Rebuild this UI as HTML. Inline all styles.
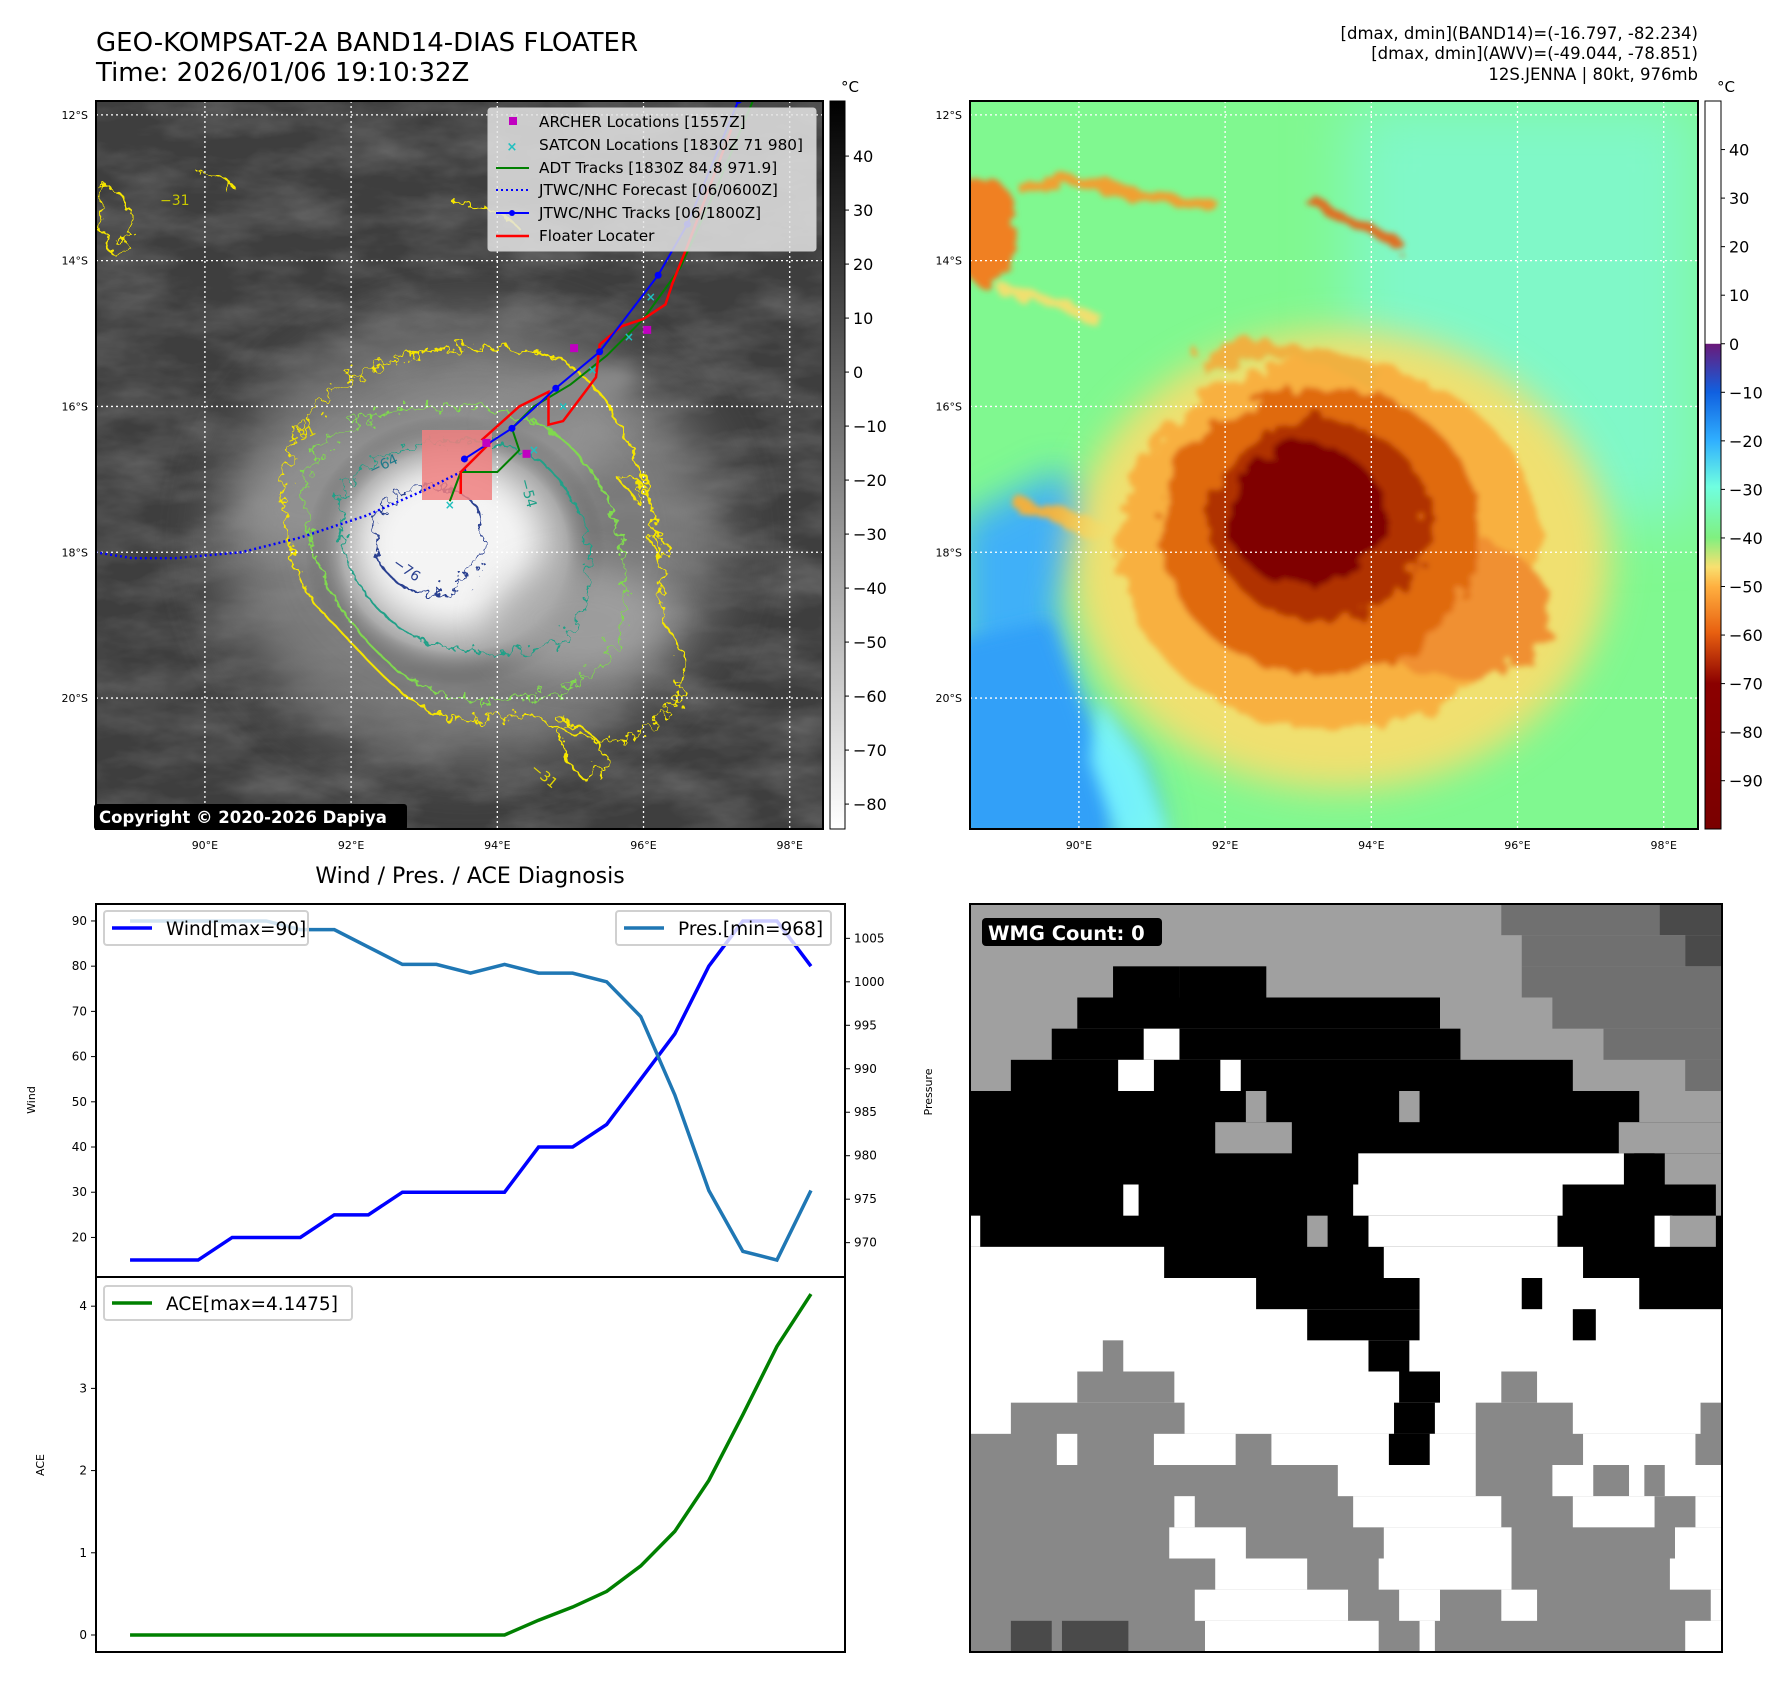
<!DOCTYPE html>
<html><head><meta charset="utf-8">
<style>
html,body{margin:0;padding:0;background:#fff;}
body{width:1788px;height:1690px;overflow:hidden;font-family:"Liberation Sans","DejaVu Sans",sans-serif;}
svg text{font-family:"DejaVu Sans","Liberation Sans",sans-serif;}
</style></head>
<body>
<svg id="fig" width="1788" height="1690" viewBox="0 0 1788 1690" xmlns="http://www.w3.org/2000/svg">
<defs>
  <filter id="blur8" x="-30%" y="-30%" width="160%" height="160%"><feGaussianBlur stdDeviation="8"/></filter>
  <filter id="blur18" x="-40%" y="-40%" width="180%" height="180%"><feGaussianBlur stdDeviation="18"/></filter>
  <filter id="blur30" x="-50%" y="-50%" width="200%" height="200%"><feGaussianBlur stdDeviation="30"/></filter>
  <filter id="wiggle" x="-10%" y="-10%" width="120%" height="120%">
    <feTurbulence type="fractalNoise" baseFrequency="0.09" numOctaves="3" seed="3"/>
    <feDisplacementMap in="SourceGraphic" scale="26"/>
  </filter>
  <filter id="cloudtex" x="0" y="0" width="100%" height="100%">
    <feTurbulence type="fractalNoise" baseFrequency="0.012 0.03" numOctaves="4" seed="7"/>
    <feColorMatrix type="matrix" values="0 0 0 0 1  0 0 0 0 1  0 0 0 0 1  0 0 0 0.9 -0.3"/>
  </filter>
  <filter id="rough" x="-20%" y="-20%" width="140%" height="140%">
    <feTurbulence type="fractalNoise" baseFrequency="0.04" numOctaves="3" seed="11"/>
    <feDisplacementMap in="SourceGraphic" scale="30"/>
    <feGaussianBlur stdDeviation="3"/>
  </filter>
  <linearGradient id="cbgray" x1="0" y1="0" x2="0" y2="1">
    <stop offset="0" stop-color="#000"/><stop offset="1" stop-color="#fff"/>
  </linearGradient>
  <linearGradient id="cbcol" x1="0" y1="0" x2="0" y2="1">
    <stop offset="0" stop-color="#ffffff"/>
    <stop offset="0.333" stop-color="#ffffff"/>
    <stop offset="0.334" stop-color="#6a1a7a"/>
    <stop offset="0.40" stop-color="#1060e0"/>
    <stop offset="0.467" stop-color="#30b0ff"/>
    <stop offset="0.53" stop-color="#70ffe0"/>
    <stop offset="0.60" stop-color="#80f080"/>
    <stop offset="0.64" stop-color="#f8e070"/>
    <stop offset="0.667" stop-color="#ffb040"/>
    <stop offset="0.73" stop-color="#e86010"/>
    <stop offset="0.80" stop-color="#8b0000"/>
    <stop offset="1" stop-color="#7a0000"/>
  </linearGradient>
  <radialGradient id="eyeGray" cx="0.5" cy="0.5" r="0.5">
    <stop offset="0" stop-color="#ffffff"/>
    <stop offset="0.4" stop-color="#eeeeee"/>
    <stop offset="0.75" stop-color="#aaaaaa"/>
    <stop offset="1" stop-color="#555" stop-opacity="0"/>
  </radialGradient>
  <clipPath id="clipL"><rect x="96" y="101" width="727" height="728"/></clipPath>
  <clipPath id="clipR"><rect x="970" y="101" width="728" height="728"/></clipPath>
</defs>

<!-- titles -->
<text x="96" y="51" font-size="26" fill="#000">GEO-KOMPSAT-2A BAND14-DIAS FLOATER</text>
<text x="96" y="81" font-size="26" fill="#000">Time: 2026/01/06 19:10:32Z</text>
<g font-size="16.5" text-anchor="end" fill="#000">
  <text x="1698" y="39">[dmax, dmin](BAND14)=(-16.797, -82.234)</text>
  <text x="1698" y="59">[dmax, dmin](AWV)=(-49.044, -78.851)</text>
  <text x="1698" y="80">12S.JENNA | 80kt, 976mb</text>
</g>

<!-- LEFT MAP -->
<g clip-path="url(#clipL)">
  <rect x="96" y="101" width="727" height="728" fill="#3e3e3e"/>
  <rect x="96" y="101" width="727" height="728" fill="#fff" filter="url(#cloudtex)" opacity="0.35"/>
  <ellipse cx="470" cy="540" rx="250" ry="220" fill="#8a8a8a" filter="url(#blur30)" opacity="0.8"/>
  <ellipse cx="430" cy="470" rx="200" ry="70" fill="#999" filter="url(#blur18)" transform="rotate(-15 430 470)" opacity="0.7"/>
  <ellipse cx="455" cy="550" rx="150" ry="135" fill="url(#eyeGray)"/>
  <ellipse cx="445" cy="540" rx="80" ry="70" fill="#f4f4f4" filter="url(#blur18)"/>
  <ellipse cx="580" cy="620" rx="90" ry="55" fill="#aaa" filter="url(#blur18)" opacity="0.7"/>
  <ellipse cx="560" cy="400" rx="80" ry="20" fill="#888" filter="url(#blur8)" transform="rotate(-20 560 400)"/>
  <!-- contours -->
  <g fill="none" filter="url(#wiggle)" stroke-width="2">
    <path stroke="#f5e500" d="M300,430 C340,350 480,330 560,360 C640,400 670,560 660,620 C700,660 690,720 620,740 C560,750 560,700 480,720 C420,730 370,660 320,610 C280,560 270,480 300,430 Z"/>
    <path stroke="#80d850" d="M320,450 C370,390 500,400 550,430 C610,470 640,560 620,630 C600,690 550,700 480,700 C410,700 360,640 330,590 C305,540 295,490 320,450 Z"/>
    <path stroke="#20a088" d="M350,480 C400,430 500,430 545,465 C595,510 600,580 575,625 C545,665 480,655 430,645 C385,625 355,590 345,550 C338,515 336,495 350,480 Z"/>
    <path stroke="#2a4090" d="M385,505 C420,475 470,485 480,515 C495,545 470,580 450,590 C420,600 395,590 380,560 C370,535 372,518 385,505 Z"/>
  </g>
  <g fill="none" stroke="#f5e500" stroke-width="2" filter="url(#wiggle)">
    <path d="M100,190 C130,180 140,230 120,250 C105,260 100,240 100,190"/>
    <path d="M450,200 C480,205 510,215 520,230"/>
    <path d="M200,175 C220,170 240,185 230,195"/>
    <path d="M560,720 C600,730 620,760 590,780 C570,775 560,750 560,720"/>
    <path d="M620,480 C640,470 650,490 635,500 Z"/>
    <path d="M650,540 C665,530 675,555 660,560 Z"/>
  </g>
  <g font-size="14" fill="#e5d800">
    <text x="290" y="446" transform="rotate(-25 290 446)">−31</text>
    <text x="160" y="205" fill="#c8c800">−31</text>
    <text x="530" y="770" transform="rotate(40 530 770)">−31</text>
  </g>
  <text x="372" y="475" font-size="14" fill="#1f7a8a" transform="rotate(-25 372 475)">−64</text>
  <text x="392" y="565" font-size="14" fill="#2a4090" transform="rotate(35 392 565)">−76</text>
  <text x="520" y="480" font-size="14" fill="#20a088" transform="rotate(75 520 480)">−54</text>
  <g id="gridL" stroke="#fff" stroke-width="1.3" stroke-dasharray="2 3"></g>
  <rect x="422" y="430" width="70" height="70" fill="#f08080" opacity="0.85"/>
  <g id="tracksL"></g>
</g>
<rect x="96" y="101" width="727" height="728" fill="none" stroke="#000" stroke-width="2"/>
<g>
  <rect x="94" y="804" width="313" height="26" rx="3" fill="#000"/>
  <text x="99" y="823" font-size="16.5" font-weight="bold" fill="#fff">Copyright © 2020-2026 Dapiya</text>
</g>
<!-- legend left map -->
<g>
  <rect x="488" y="108" width="328" height="143" rx="3" fill="#e4e4e4" fill-opacity="0.85" stroke="#ccc"/>
  <rect x="509" y="117" width="8" height="8" fill="#c000c0"/>
  <text x="512" y="151" font-size="13" fill="#20c0c0" font-weight="bold" text-anchor="middle">×</text>
  <line x1="496" y1="168" x2="529" y2="168" stroke="#008000" stroke-width="2"/>
  <line x1="496" y1="190" x2="529" y2="190" stroke="#0000ff" stroke-width="2" stroke-dasharray="2 3"/>
  <line x1="496" y1="213" x2="529" y2="213" stroke="#0000ff" stroke-width="2"/>
  <circle cx="512" cy="213" r="3" fill="#0000ff"/>
  <line x1="496" y1="236" x2="529" y2="236" stroke="#ff0000" stroke-width="2.5"/>
  <g font-size="15.3" fill="#000">
    <text x="539" y="127">ARCHER Locations [1557Z]</text>
    <text x="539" y="150">SATCON Locations [1830Z 71 980]</text>
    <text x="539" y="173">ADT Tracks [1830Z 84.8 971.9]</text>
    <text x="539" y="195">JTWC/NHC Forecast [06/0600Z]</text>
    <text x="539" y="218">JTWC/NHC Tracks [06/1800Z]</text>
    <text x="539" y="241">Floater Locater</text>
  </g>
</g>
<!-- left colorbar -->
<g>
  <rect x="830" y="101" width="15" height="728" fill="url(#cbgray)" stroke="#000" stroke-width="1"/>
  <text x="850" y="92" font-size="15" text-anchor="middle">°C</text>
  <g id="cbLticks" font-size="16"></g>
</g>

<!-- RIGHT MAP -->
<g clip-path="url(#clipR)">
  <rect x="970" y="101" width="728" height="728" fill="#80f890"/>
  <rect x="1350" y="101" width="348" height="420" fill="#80f8c8" filter="url(#blur30)"/>
  <polygon points="960,520 1060,470 1110,520 1060,600 1080,700 1140,760 1160,840 960,840" fill="#40b0f8" filter="url(#blur18)"/>
  <polygon points="960,640 1050,620 1100,760 1110,840 960,840" fill="#30a0f8" filter="url(#blur8)"/>
  <polygon points="1100,700 1140,760 1170,840 1120,840 1090,760" fill="#80ffff" filter="url(#blur8)" opacity="0.8"/>
  <g filter="url(#rough)">
    <ellipse cx="985" cy="230" rx="30" ry="55" fill="#f08020"/>
    <path d="M1020,190 C1060,175 1120,190 1220,210" stroke="#f0a030" stroke-width="14" fill="none"/>
    <path d="M1310,200 C1340,215 1370,230 1400,245" stroke="#e07020" stroke-width="12" fill="none"/>
    <path d="M1000,290 C1050,300 1080,310 1100,320" stroke="#f0e070" stroke-width="12" fill="none"/>
    <path d="M1020,505 C1060,515 1100,530 1140,545" stroke="#f0b040" stroke-width="16" fill="none"/>
  </g>
  <!-- cyclone -->
  <ellipse cx="1340" cy="560" rx="270" ry="230" fill="#f0e070" filter="url(#blur18)"/>
  <g filter="url(#rough)">
    <ellipse cx="1330" cy="545" rx="210" ry="185" fill="#f8b040"/>
    <ellipse cx="1460" cy="610" rx="90" ry="70" fill="#f09030"/>
    <ellipse cx="1320" cy="530" rx="160" ry="145" fill="#e06a10"/>
    <ellipse cx="1320" cy="520" rx="110" ry="100" fill="#b03000"/>
    <ellipse cx="1305" cy="515" rx="78" ry="72" fill="#800000"/>
    <path d="M1200,365 C1260,340 1320,350 1380,380" stroke="#f0b040" stroke-width="18" fill="none"/>
  </g>
  <g id="gridR" stroke="#fff" stroke-width="1.3" stroke-dasharray="2 3"></g>
</g>
<rect x="970" y="101" width="728" height="728" fill="none" stroke="#000" stroke-width="2"/>
<g>
  <rect x="1705" y="101" width="16" height="728" fill="url(#cbcol)" stroke="#000" stroke-width="1"/>
  <text x="1726" y="92" font-size="15" text-anchor="middle">°C</text>
  <g id="cbRticks" font-size="16"></g>
</g>
<g id="mapTicks" font-size="11"></g>

<!-- Diagnosis chart -->
<text x="470" y="883" font-size="22" text-anchor="middle">Wind / Pres. / ACE Diagnosis</text>
<g id="chart"></g>

<!-- WMG -->
<g id="wmg"></g>
<rect x="970" y="904" width="752" height="748" fill="none" stroke="#000" stroke-width="2"/>
<g>
  <rect x="982" y="918" width="180" height="28" rx="4" fill="#000"/>
  <text x="988" y="940" font-size="19.5" font-weight="bold" fill="#fff">WMG Count: 0</text>
</g>
</svg>

<script>
// ===== chart data =====
const timeIdx = [0,1,2,3,4,5,6,7,8,9,10,11,12,13,14,15,16,17,18,19,20];
const windVals = [15,15,15,20,20,20,25,25,30,30,30,30,40,40,45,55,65,80,90,90,80];
const presVals = [1007,1007,1007,1007,1007,1006,1006,1004,1002,1002,1001,1002,1001,1001,1000,996,987,976,969,968,976];
const aceVals = [0,0,0,0,0,0,0,0,0,0,0,0,0.18,0.34,0.53,0.84,1.26,1.88,2.68,3.51,4.1475];
const windTicks = [20,30,40,50,60,70,80,90];
const presTicks = [970,975,980,985,990,995,1000,1005];
const aceTicks = [0,1,2,3,4];
// track data (lon, lat)
const fcstLon = [88.5,89.0,89.6,90.5,91.3,92.2,93.0,93.6];
const fcstLat = [18.0,18.08,18.08,18.0,17.8,17.5,17.15,16.85];
const jtwcLon = [93.55,94.2,94.8,95.4,96.2,96.6,97.3];
const jtwcLat = [16.72,16.3,15.75,15.25,14.2,13.5,11.8];
const adtLon = [93.35,93.5,94.0,94.3,94.2,94.5,95.0,95.5,96.0,96.5,97.0,97.5];
const adtLat = [17.3,16.9,16.9,16.6,16.3,16.0,15.7,15.3,14.8,14.1,13.0,11.8];
const floatLon = [93.5,93.5,93.9,93.8,94.3,94.7,94.7,94.9,95.35,95.4,95.7,96.0,96.3,96.4,96.6,97.2];
const floatLat = [17.2,16.9,16.5,16.45,16.0,15.8,16.25,16.2,15.6,15.15,14.9,14.8,14.6,14.3,13.8,12.2];
const archerLon = [95.05,96.05,93.85,94.4];
const archerLat = [15.2,14.95,16.5,16.65];
const satconLon = [93.35,94.5,94.9,95.3,95.8,96.1];
const satconLat = [17.35,16.6,16.0,15.5,15.05,14.5];

const NS='http://www.w3.org/2000/svg';
function mk(tag, attrs, parent){const e=document.createElementNS(NS,tag);for(const k in attrs)e.setAttribute(k,attrs[k]);parent.appendChild(e);return e;}

const LON0=88.51, DEG=73.1, LAT0=11.81, DEGY=72.9;
function mxL(lon){return 96+(lon-LON0)*DEG;}
function mxR(lon){return 970+(lon-LON0)*DEG;}
function my(lat){return 101+(lat-LAT0)*DEGY;}

const lonTicks=[90,92,94,96,98], latTicks=[12,14,16,18,20];
const gridL=document.getElementById('gridL'), gridR=document.getElementById('gridR'), mt=document.getElementById('mapTicks');
lonTicks.forEach(l=>{
  let a=mk('line',{x1:mxL(l),x2:mxL(l),y1:101,y2:829},gridL);
  
  
  let b=mk('line',{x1:mxR(l),x2:mxR(l),y1:101,y2:829},gridR);
  
  
  [mxL(l),mxR(l)].forEach(x=>{const t=mk('text',{x:x,y:849,'text-anchor':'middle'},mt);t.textContent=l+'°E';
    
    });
});
latTicks.forEach(l=>{
  let a=mk('line',{x1:96,x2:823,y1:my(l),y2:my(l)},gridL);
  
  
  let b=mk('line',{x1:970,x2:1698,y1:my(l),y2:my(l)},gridR);
  
  
  [88,962].forEach(x=>{const t=mk('text',{x:x,y:my(l)+4,'text-anchor':'end'},mt);t.textContent=l+'°S';
    
    });
});
const cbLVals=[40,30,20,10,0,-10,-20,-30,-40,-50,-60,-70,-80];
const cbRVals=[40,30,20,10,0,-10,-20,-30,-40,-50,-60,-70,-80,-90];
const cbl=document.getElementById('cbLticks'), cbr=document.getElementById('cbRticks');
cbLVals.forEach(v=>{const y=101+(50.2-v)*5.4;mk('line',{x1:845,x2:849,y1:y,y2:y,stroke:'#000'},cbl);
  const t=mk('text',{x:853,y:y+6},cbl);t.textContent=String(v).replace('-','−');
  
  });
cbRVals.forEach(v=>{const y=101+(50-v)*4.855;mk('line',{x1:1721,x2:1725,y1:y,y2:y,stroke:'#000'},cbr);
  const t=mk('text',{x:1729,y:y+6},cbr);t.textContent=String(v).replace('-','−');
  
  });

const tr=document.getElementById('tracksL');
function pts(lons,lats){return lons.map((l,i)=>mxL(l)+','+my(lats[i])).join(' ');}
let p;
p=mk('polyline',{points:pts(fcstLon,fcstLat),fill:'none',stroke:'#0000ff','stroke-width':2.5,'stroke-dasharray':'2 3'},tr);


p=mk('polyline',{points:pts(adtLon,adtLat),fill:'none',stroke:'#008000','stroke-width':2},tr);


p=mk('polyline',{points:pts(floatLon,floatLat),fill:'none',stroke:'#ff0000','stroke-width':2.5},tr);


p=mk('polyline',{points:pts(jtwcLon,jtwcLat),fill:'none',stroke:'#0000ff','stroke-width':2},tr);


jtwcLon.forEach((l,i)=>{const c=mk('circle',{cx:mxL(l),cy:my(jtwcLat[i]),r:3.5,fill:'#0000ff'},tr);
  
  });
archerLon.forEach((l,i)=>{const r=mk('rect',{x:mxL(l)-4,y:my(archerLat[i])-4,width:8,height:8,fill:'#c000c0'},tr);
  
  });
satconLon.forEach((l,i)=>{const t=mk('text',{x:mxL(l),y:my(satconLat[i])+4,'font-size':12,fill:'#20c0c0','text-anchor':'middle','font-weight':'bold'},tr);t.textContent='×';
  
  });

// ===== diagnosis chart =====
const ch=document.getElementById('chart');
const AX0=96, AX1=845, T0=904, T1=1277, B1=1652;
function cx(i){return AX0+(i+1)/22*(AX1-AX0);}
function wy(v){return T0+(93.75-v)/82.5*(T1-T0);}
function py(v){return T0+(1008.95-v)/42.9*(T1-T0);}
function ay(v){return T1+(4.355-v)/4.562*(B1-T1);}
let r;
r=mk('rect',{x:AX0,y:T0,width:AX1-AX0,height:T1-T0,fill:'none',stroke:'#000','stroke-width':2},ch);


r=mk('rect',{x:AX0,y:T1,width:AX1-AX0,height:B1-T1,fill:'none',stroke:'#000','stroke-width':2},ch);


windTicks.forEach(v=>{mk('line',{x1:AX0-5,x2:AX0,y1:wy(v),y2:wy(v),stroke:'#000'},ch);
  const t=mk('text',{x:AX0-9,y:wy(v)+4,'font-size':12,'text-anchor':'end'},ch);t.textContent=v;
  
  });
presTicks.forEach(v=>{mk('line',{x1:AX1,x2:AX1+5,y1:py(v),y2:py(v),stroke:'#000'},ch);
  const t=mk('text',{x:AX1+9,y:py(v)+4,'font-size':12},ch);t.textContent=v;
  
  });
aceTicks.forEach(v=>{mk('line',{x1:AX0-5,x2:AX0,y1:ay(v),y2:ay(v),stroke:'#000'},ch);
  const t=mk('text',{x:AX0-9,y:ay(v)+4,'font-size':12,'text-anchor':'end'},ch);t.textContent=v;
  
  });
let lb;
lb=mk('text',{x:35,y:1100,'font-size':11,'text-anchor':'middle',transform:'rotate(-90 35 1100)'},ch);lb.textContent='Wind';


lb=mk('text',{x:932,y:1092,'font-size':11,'text-anchor':'middle',transform:'rotate(-90 932 1092)'},ch);lb.textContent='Pressure';


lb=mk('text',{x:44,y:1465,'font-size':11,'text-anchor':'middle',transform:'rotate(-90 44 1465)'},ch);lb.textContent='ACE';


let ln;
ln=mk('polyline',{points:timeIdx.map(i=>cx(i)+','+wy(windVals[i])).join(' '),fill:'none',stroke:'#0000ff','stroke-width':3.5},ch);


ln=mk('polyline',{points:timeIdx.map(i=>cx(i)+','+py(presVals[i])).join(' '),fill:'none',stroke:'#1f77b4','stroke-width':3.5},ch);


ln=mk('polyline',{points:timeIdx.map(i=>cx(i)+','+ay(aceVals[i])).join(' '),fill:'none',stroke:'#008000','stroke-width':3.5},ch);


function legend(name,x,y,w,color,label){
  const g=mk('g',{},ch);
  
  
  mk('rect',{x:x,y:y,width:w,height:34,rx:3,fill:'#fff','fill-opacity':0.8,stroke:'#d0d0d0','stroke-width':2},g);
  mk('line',{x1:x+8,x2:x+48,y1:y+17,y2:y+17,stroke:color,'stroke-width':3.5},g);
  const t=mk('text',{x:x+62,y:y+24,'font-size':18.5},g);t.textContent=label;
}
legend('wind-legend',104,911,204,'#0000ff','Wind[max=90]');
legend('pressure-legend',616,911,215,'#1f77b4','Pres.[min=968]');
legend('ace-legend',104,1286,248,'#008000','ACE[max=4.1475]');

// ===== WMG raster =====
const wmgRows=[
"L|1060-1370:D|1370-1492:E","L|1100-1420:D|1420-1492:E","L|430-600:K|300-430:K|1100-1492:D",
"L|230-940:K|1160-1492:D","L|180-980:K|360-430:W|1260-1492:D","L|100-1200:K|310-380:W|510-550:W|1420-1492:D",
"K|1330-1492:L|560-600:L|860-900:L","K|1290-1492:L|500-650:L","K|780-1300:W|1380-1492:L|1320-1360:K",
"K|770-1180:W|1480-1492:L|320-350:W","K|20-40:W|800-1170:W|680-720:L|1360-1395:W|1390-1480:L",
"K|20-400:W|830-1220:W","W|580-900:K|1330-1492:K|1100-1140:K","W|680-900:K|1200-1245:K",
"W|280-320:G|800-880:K","W|230-420:G|860-940:K|1060-1130:G","W|100-440:G|850-930:K|1010-1200:G|1450-1492:G",
"G|380-540:W|610-840:W|840-920:K|920-1010:W|1220-1440:W|190-230:W","G|740-1010:W|1160-1492:W|1240-1310:G|1340-1380:G",
"G|420-460:W|770-1060:W|1200-1492:W|1360-1440:G","G|410-560:W|830-1080:W|1400-1492:W","G|500-680:W|820-1080:W|1390-1492:W",
"G|460-760:W|860-940:W|1060-1130:W|1470-1492:W","G|480-820:W|900-930:W|1420-1492:W|100-180:E|200-330:E"];
const wcol={L:'#a0a0a0',D:'#707070',E:'#4a4a4a',K:'#000000',W:'#ffffff',G:'#888888'};
const wg=document.getElementById('wmg');
function wx(z){return 970+(z-20)/1472*752;}
const rh=748/24;
wmgRows.forEach((row,ri)=>{
  const parts=row.split('|');
  const y=904+ri*rh;
  mk('rect',{x:970,y:y,width:752,height:rh+0.6,fill:wcol[parts[0]]},wg);
  parts.slice(1).forEach(s=>{const [rng,c]=s.split(':');const [a,b]=rng.split('-').map(Number);
    mk('rect',{x:wx(a),y:y,width:wx(b)-wx(a),height:rh+0.6,fill:wcol[c]},wg);});
});
</script>
</body></html>
